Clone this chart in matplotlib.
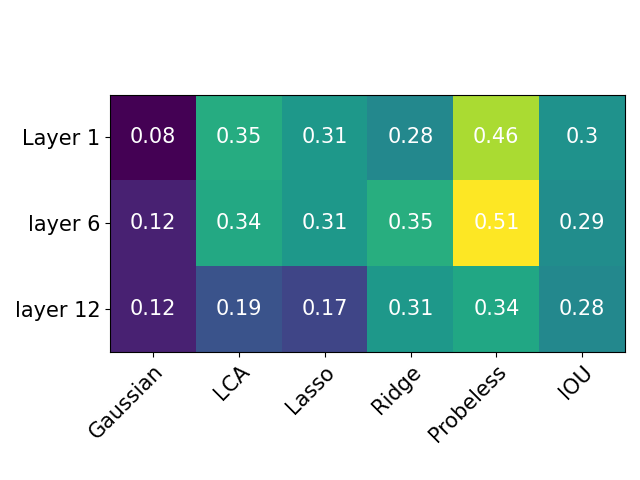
import matplotlib
matplotlib.use("Agg")
import matplotlib.pyplot as plt
import numpy as np

methods = ["Gaussian", "LCA", "Lasso", "Ridge", "Probeless", "IOU"]
layers = ["Layer 1", "layer 6", "layer 12"]
layer1 = [0.08, 0.346, 0.31, 0.28, 0.456, 0.3]
layer6 = [0.12, 0.34, 0.31, 0.35, 0.51, 0.29]
layer12 = [0.12, 0.19, 0.17, 0.31, 0.336, 0.28]

data = np.array([layer1, layer6, layer12])

fig, ax = plt.subplots(figsize=(6.4, 4.8), dpi=100)
ax.imshow(data, cmap="viridis")
ax.set_xticks(np.arange(len(methods)))
ax.set_yticks(np.arange(len(layers)))
ax.set_xticklabels(methods, fontsize=15)
ax.set_yticklabels(layers, fontsize=15)
plt.setp(ax.get_xticklabels(), rotation=45, ha="right", rotation_mode="anchor")
for i in range(len(layers)):
    for j in range(len(methods)):
        ax.text(j, i, f"{round(data[i, j], 2):g}", ha="center", va="center", color="w", fontsize=15)
fig.tight_layout()
fig.savefig("out.png")
